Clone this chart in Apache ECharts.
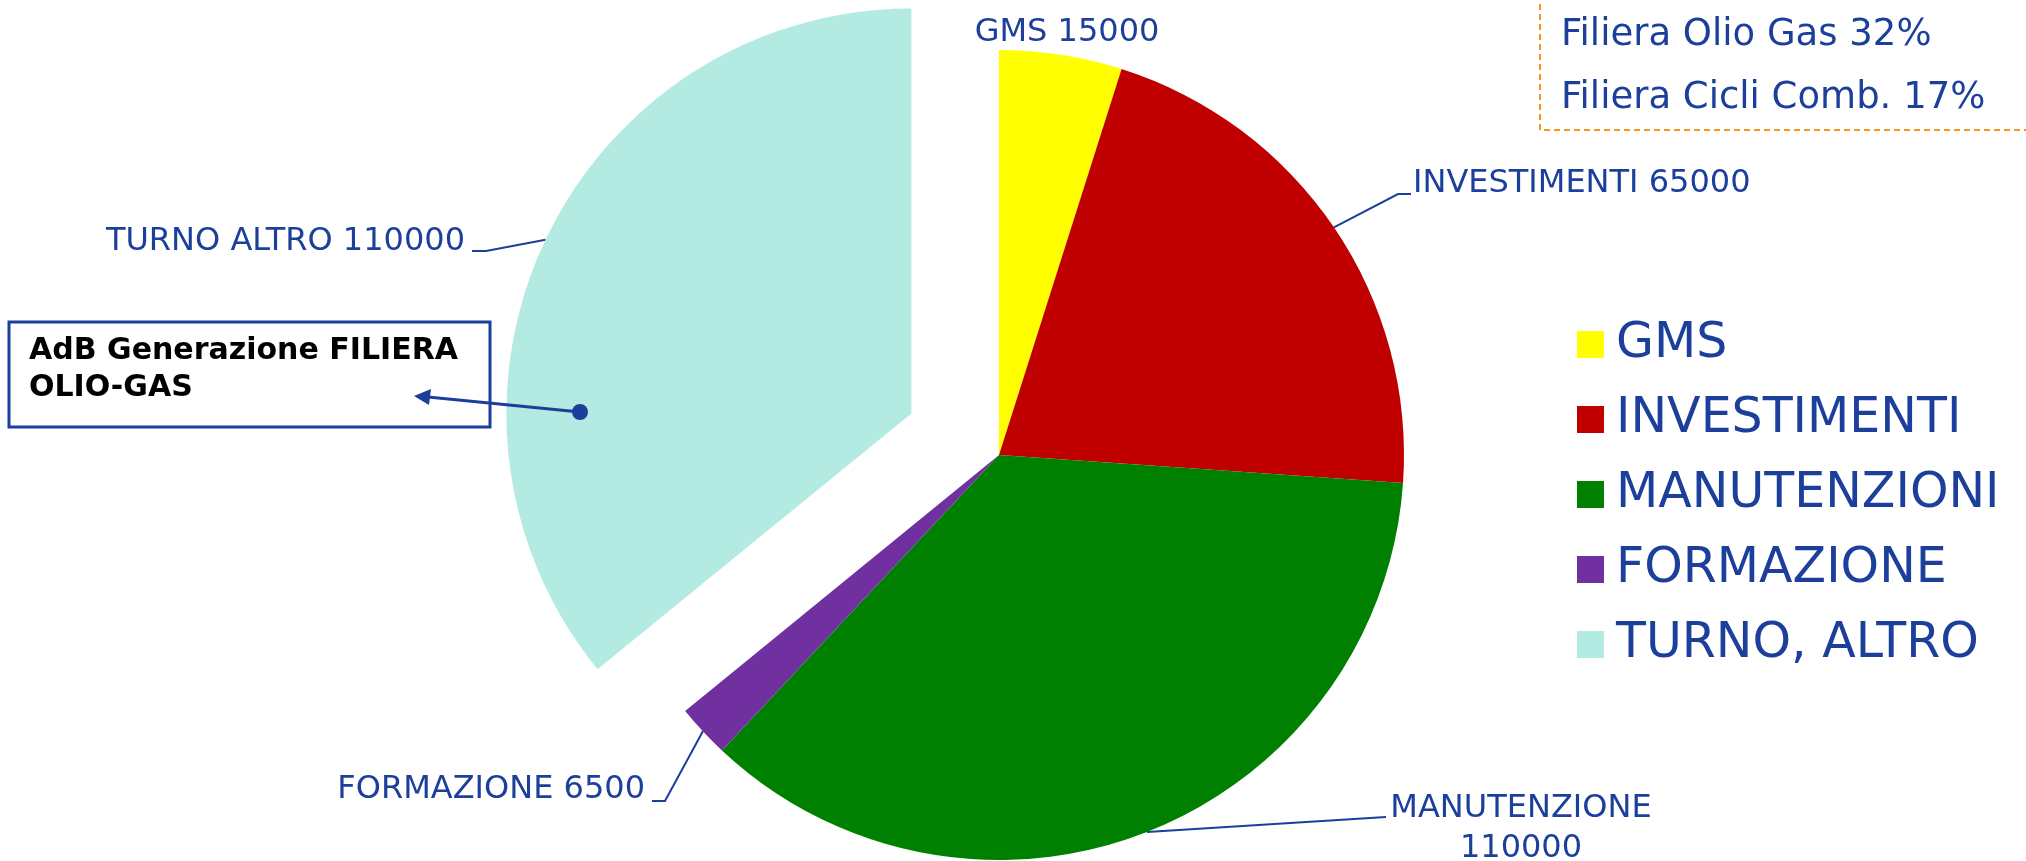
<!DOCTYPE html>
<html>
<head>
<meta charset="utf-8">
<style>
html, body { margin: 0; padding: 0; background: #fff; }
#chart { width: 2026px; height: 861px; }
</style>
<script src="https://cdn.jsdelivr.net/npm/echarts@6/dist/echarts.min.js"></script>
</head>
<body>
<div id="chart"></div>
<script>
// legend names, label names and values
const categories = ['GMS', 'INVESTIMENTI', 'MANUTENZIONI', 'FORMAZIONE', 'TURNO, ALTRO'];
const labelNames = ['GMS', 'INVESTIMENTI', 'MANUTENZIONE', 'FORMAZIONE', 'TURNO ALTRO'];
const values = [15000, 65000, 110000, 6500, 110000];
const colors = ['#FFFF00', '#C00000', '#008000', '#7030A0', '#B3EAE1'];
const notes = ['Filiera Olio Gas 32%', 'Filiera Cicli Comb. 17%'];
const calloutText = 'AdB Generazione FILIERA\nOLIO-GAS';

const blue = '#1B3F9B';
const font = 'DejaVu Sans';
const pieCenter = [999, 455];
const pieRadius = 405;
const explodeIndex = 4;
const explodeOffset = 97;
const labelGap = 5;

// where each outside label sits and how its leader line bends
const labelSpots = [
  { x: 1067, y: 33, align: 'center' },
  { x: 1413, y: 184, align: 'left', bend: [[1398, 194], [1411, 194]] },
  { x: 1521, y: 829, align: 'center', bend: [[1386, 817]] },
  { x: 645, y: 790, align: 'right', bend: [[665, 801], [652, 801]] },
  { x: 465, y: 242, align: 'right', bend: [[486, 251], [472, 251]] }
];

// the exploded slice drags its label and line along, so work in its own frame
const total = values.reduce(function (a, b) { return a + b; }, 0);
const before = values.slice(0, explodeIndex).reduce(function (a, b) { return a + b; }, 0);
const midAngle = (before + values[explodeIndex] / 2) / total * Math.PI * 2;
const dirX = Math.sin(midAngle);
const dirY = -Math.cos(midAngle);
const shiftX = dirX * explodeOffset;
const shiftY = dirY * explodeOffset;
const spotX = labelSpots[explodeIndex].x - shiftX;
const spotY = labelSpots[explodeIndex].y - shiftY;
const reach = (spotY - pieCenter[1]) / dirY;
const explodeLen = reach - pieRadius;
const explodeLen2 = (pieCenter[0] + dirX * reach) - spotX - labelGap;

const chart = echarts.init(document.getElementById('chart'));

const pieData = categories.map(function (name, i) {
  const item = { name: name, value: values[i], itemStyle: { color: colors[i] } };
  if (i === 0) item.labelLine = { show: false };
  if (i === explodeIndex) {
    item.selected = true;
    item.labelLine = { length: explodeLen, length2: explodeLen2 };
  }
  return item;
});

const option = {
  animation: false,
  legend: {
    orient: 'vertical',
    left: 1577,
    top: 320,
    padding: 0,
    icon: 'rect',
    itemWidth: 27,
    itemHeight: 27,
    itemGap: 26,
    selectedMode: false,
    data: categories,
    textStyle: { color: blue, fontSize: 49, lineHeight: 40, fontFamily: font, padding: [8, 0, 0, 7] }
  },
  series: [{
    type: 'pie',
    center: pieCenter,
    radius: pieRadius,
    startAngle: 90,
    clockwise: true,
    selectedMode: 'single',
    selectedOffset: explodeOffset,
    avoidLabelOverlap: false,
    emphasis: { disabled: true },
    label: {
      show: true,
      color: blue,
      fontSize: 32,
      fontFamily: font,
      lineHeight: 40,
      distanceToLabelLine: labelGap,
      formatter: function (p) {
        return labelNames[p.dataIndex] + (p.dataIndex === 2 ? '\n' : ' ') + p.value;
      }
    },
    labelLine: { show: true, lineStyle: { color: blue, width: 2 } },
    labelLayout: function (params) {
      const i = params.dataIndex;
      const s = labelSpots[i];
      const res = { x: s.x, y: s.y, align: s.align, verticalAlign: 'middle' };
      if (s.bend && params.labelLinePoints) {
        const sx = i === explodeIndex ? shiftX : 0;
        const sy = i === explodeIndex ? shiftY : 0;
        res.labelLinePoints = [params.labelLinePoints[0]].concat(s.bend.map(function (p) {
          return [p[0] - sx, p[1] - sy];
        }));
      }
      return res;
    },
    data: pieData
  }],
  graphic: [
    {
      type: 'rect', z: 100,
      shape: { x: 1540, y: -10, width: 500, height: 140 },
      style: { fill: 'none', stroke: '#F7941D', lineWidth: 2, lineDash: [6, 4] }
    },
    {
      type: 'text', x: 1561, y: 35, z: 100,
      style: { text: notes[0], fill: blue, font: '37px "DejaVu Sans"', textVerticalAlign: 'middle' }
    },
    {
      type: 'text', x: 1561, y: 98, z: 100,
      style: { text: notes[1], fill: blue, font: '37px "DejaVu Sans"', textVerticalAlign: 'middle' }
    },
    {
      type: 'rect', z: 100,
      shape: { x: 9, y: 322, width: 481, height: 105 },
      style: { fill: '#fff', stroke: blue, lineWidth: 3 }
    },
    {
      type: 'text', x: 29, y: 370, z: 101,
      style: {
        text: calloutText, fill: '#000', lineHeight: 37,
        font: 'bold 30px "DejaVu Sans"', textVerticalAlign: 'middle'
      }
    },
    {
      type: 'polyline', z: 102,
      shape: { points: [[580, 412], [428, 397]] },
      style: { stroke: blue, lineWidth: 3 }
    },
    {
      type: 'polygon', z: 102,
      shape: { points: [[414, 396], [431, 389], [429, 405]] },
      style: { fill: blue }
    },
    {
      type: 'circle', z: 102,
      shape: { cx: 580, cy: 412, r: 8 },
      style: { fill: blue }
    }
  ]
};

chart.setOption(option);
</script>
</body>
</html>
